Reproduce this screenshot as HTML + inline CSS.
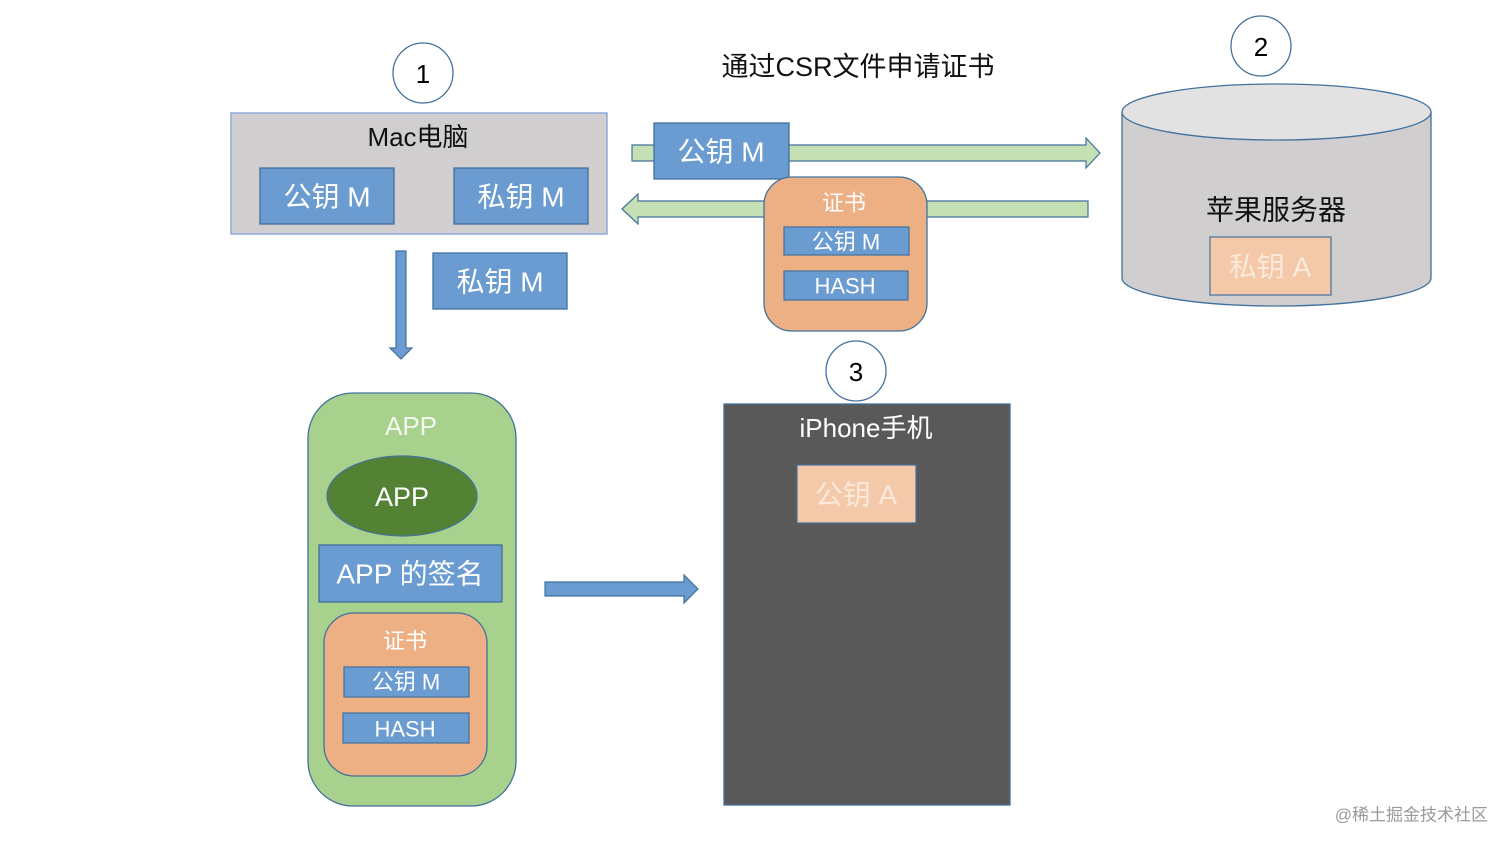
<!DOCTYPE html>
<html><head><meta charset="utf-8"><style>
html,body{margin:0;padding:0;background:#fff;width:1512px;height:848px;overflow:hidden}
svg{display:block}
text{font-family:"Liberation Sans","Noto Sans CJK SC",sans-serif;text-anchor:middle;dominant-baseline:central}
</style></head><body>
<svg width="1512" height="848" viewBox="0 0 1512 848" xmlns="http://www.w3.org/2000/svg">
<g fill="none" stroke="#41719c" stroke-width="1.3">
<circle cx="423" cy="73" r="30" fill="#fff"/>
<circle cx="1261" cy="46" r="30" fill="#fff"/>
<circle cx="856" cy="371" r="30" fill="#fff"/>
</g>
<text x="423" y="74" font-size="26" fill="#000">1</text>
<text x="1261" y="47" font-size="26" fill="#000">2</text>
<text x="856" y="372" font-size="26" fill="#000">3</text>
<text x="858" y="67" font-size="27" fill="#111">通过CSR文件申请证书</text>

<!-- Mac box -->
<rect x="231" y="113" width="376" height="121" fill="#d0cece" stroke="#8faadc" stroke-width="1.5"/>
<text x="418" y="137" font-size="26" fill="#111">Mac电脑</text>
<g fill="#6a9bd1" stroke="#41719c" stroke-width="1.3">
<rect x="260" y="168" width="134" height="56"/>
<rect x="454" y="168" width="134" height="56"/>
<rect x="433" y="253" width="134" height="56"/>
</g>
<g font-size="28" fill="#fff">
<text x="327" y="197">公钥 M</text>
<text x="521" y="197">私钥 M</text>
<text x="500" y="282">私钥 M</text>
</g>
<!-- down arrow -->
<path d="M396 251 H406 V348 H412 L401 359 L390 348 H396 Z" fill="#6a9bd1" stroke="#41719c" stroke-width="1.2"/>

<!-- top arrow -->
<path d="M632 145 H1086 V138 L1100 153 L1086 168 V161 H632 Z" fill="#c5e0b4" stroke="#41719c" stroke-width="1.2"/>
<rect x="654" y="123" width="135" height="56" fill="#6a9bd1" stroke="#41719c" stroke-width="1.3"/>
<text x="721" y="152" font-size="28" fill="#fff">公钥 M</text>
<!-- bottom arrow -->
<path d="M1088 201 H638 V194 L622 209 L638 224 V217 H1088 Z" fill="#c5e0b4" stroke="#41719c" stroke-width="1.2"/>
<!-- cert -->
<rect x="764" y="177" width="163" height="154" rx="28" fill="#edb084" stroke="#41719c" stroke-width="1.3"/>
<text x="844" y="203" font-size="22" fill="#fff">证书</text>
<rect x="784" y="227" width="125" height="28" fill="#6a9bd1" stroke="#41719c" stroke-width="1.2"/>
<rect x="784" y="271" width="124" height="29" fill="#6a9bd1" stroke="#41719c" stroke-width="1.2"/>
<text x="846" y="242" font-size="22" fill="#fff">公钥 M</text>
<text x="845" y="286" font-size="22" fill="#fff">HASH</text>

<!-- cylinder -->
<path d="M1122 112 V278 A154.5 28 0 0 0 1431 278 V112" fill="#d0cece" stroke="#41719c" stroke-width="1.3"/>
<ellipse cx="1276.5" cy="112" rx="154.5" ry="28" fill="#e2e2e2" stroke="#41719c" stroke-width="1.3"/>
<text x="1276" y="210" font-size="28" fill="#111">苹果服务器</text>
<rect x="1210" y="237" width="121" height="58" fill="#f4c9a9" stroke="#41719c" stroke-width="1.2"/>
<text x="1270" y="267" font-size="28" fill="#fbe9dc">私钥 A</text>

<!-- APP -->
<rect x="308" y="393" width="208" height="413" rx="45" fill="#a9d18e" stroke="#41719c" stroke-width="1.3"/>
<text x="411" y="426" font-size="26" fill="#f3f8ee">APP</text>
<ellipse cx="402" cy="496" rx="75" ry="40" fill="#548235" stroke="#41719c" stroke-width="1.2"/>
<text x="402" y="497" font-size="27" fill="#fff">APP</text>
<rect x="319" y="545" width="183" height="57" fill="#6a9bd1" stroke="#41719c" stroke-width="1.3"/>
<text x="410" y="574" font-size="28" fill="#fff">APP 的签名</text>
<rect x="324" y="613" width="163" height="163" rx="30" fill="#edb084" stroke="#41719c" stroke-width="1.3"/>
<text x="405" y="641" font-size="22" fill="#fff">证书</text>
<rect x="344" y="667" width="125" height="30" fill="#6a9bd1" stroke="#41719c" stroke-width="1.2"/>
<rect x="343" y="713" width="126" height="30" fill="#6a9bd1" stroke="#41719c" stroke-width="1.2"/>
<text x="406" y="682" font-size="22" fill="#fff">公钥 M</text>
<text x="405" y="729" font-size="22" fill="#fff">HASH</text>

<!-- right arrow -->
<path d="M545 582 H684 V575 L698 589 L684 603 V596 H545 Z" fill="#6a9bd1" stroke="#41719c" stroke-width="1.2"/>

<!-- iPhone -->
<rect x="724" y="404" width="286" height="401" fill="#595959" stroke="#41719c" stroke-width="1.3"/>
<text x="866" y="428" font-size="26" fill="#fff">iPhone手机</text>
<rect x="797" y="465" width="119" height="58" fill="#f4c9a9" stroke="#41719c" stroke-width="1.2"/>
<text x="856" y="495" font-size="28" fill="#fbe9dc">公钥 A</text>

<text x="1488" y="815" font-size="17" fill="#9a9a9a" style="text-anchor:end">@稀土掘金技术社区</text>
</svg>
</body></html>
